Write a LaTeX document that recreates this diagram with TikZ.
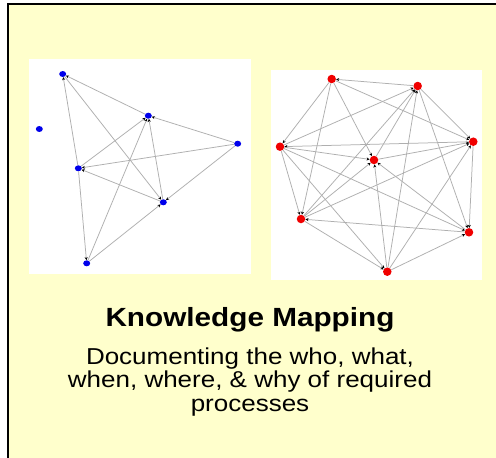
\documentclass[tikz,border=0pt]{standalone}
\usepackage{fontspec}
\usepackage{graphicx}
\setmainfont{Liberation Sans}
\usetikzlibrary{arrows.meta,shapes.geometric}
\definecolor{bgyellow}{RGB}{255,255,204}
\definecolor{edgegray}{RGB}{175,175,175}
\definecolor{nodeblue}{RGB}{0,0,235}
\definecolor{nodered}{RGB}{240,0,0}
\begin{document}
\begin{tikzpicture}[x=1pt,y=-1pt,
  bnode/.style={ellipse,fill=nodeblue,inner sep=0pt,minimum width=7pt,minimum height=6pt},
  rnode/.style={circle,fill=nodered,inner sep=0pt,minimum size=8.5pt},
  link/.style={draw=edgegray,line width=0.75pt,-{Stealth[length=3pt,width=3pt,color=black]}},
  panel/.style={fill=white,draw=none},
  titletext/.style={anchor=base,inner sep=0pt,font=\fontsize{26.3}{30}\selectfont\bfseries},
  bodytext/.style={anchor=base,inner sep=0pt,font=\fontsize{23}{26}\selectfont}]
\useasboundingbox (0,0) rectangle (496,458);
\begin{scope}
  \clip (0,0) rectangle (496,458);
  \fill[white] (0,0) rectangle (496,458);
  \draw[fill=bgyellow,line width=2pt] (7.7,4.3) rectangle (520,480);
\end{scope}
% panels
\fill[panel] (29,58.5) rectangle (250.5,274);
\fill[panel] (271,70) rectangle (482,280);
% left graph
\node[bnode] (A) at (62.7,74) {};
\node[bnode] (B) at (148.3,115.7) {};
\node[bnode] (C) at (39.3,129) {};
\node[bnode] (D) at (237.7,143.7) {};
\node[bnode] (E) at (78.3,168.3) {};
\node[bnode] (F) at (163.3,202.3) {};
\node[bnode] (G) at (86.7,263.3) {};
\draw[link] (B) -- (A);
\draw[link] (E) -- (A);
\draw[link] (A) -- (F);
\draw[link] (D) -- (B);
\draw[link] (F) -- (B);
\draw[link] (G) -- (B);
\draw[link] (E) -- (B);
\draw[link] (D) -- (E);
\draw[link] (F) -- (E);
\draw[link] (D) -- (F);
\draw[link] (G) -- (F);
\draw[link] (E) -- (G);
% right graph
\node[rnode] (P1) at (331.7,79) {};
\node[rnode] (P2) at (417.7,86) {};
\node[rnode] (P3) at (473.3,141.7) {};
\node[rnode] (P4) at (280,146.7) {};
\node[rnode] (P5) at (374,160) {};
\node[rnode] (P6) at (301,219) {};
\node[rnode] (P7) at (469,232.3) {};
\node[rnode] (P8) at (387.3,271.7) {};
\draw[link] (P2) -- (P1);
\draw[link] (P1) -- (P4);
\draw[link] (P1) -- (P6);
\draw[link] (P1) -- (P3);
\draw[link] (P1) -- (P5);
\draw[link] (P4) -- (P2);
\draw[link] (P5) -- (P2);
\draw[link] (P6) -- (P2);
\draw[link] (P8) -- (P2);
\draw[link] (P2) -- (P3);
\draw[link] (P2) -- (P7);
\draw[link] (P5) -- (P3);
\draw[link] (P6) -- (P3);
\draw[link] (P3) -- (P4);
\draw[link] (P8) -- (P3);
\draw[link] (P3) -- (P7);
\draw[link] (P4) -- (P5);
\draw[link] (P4) -- (P6);
\draw[link] (P4) -- (P7);
\draw[link] (P4) -- (P8);
\draw[link] (P6) -- (P5);
\draw[link] (P7) -- (P5);
\draw[link] (P8) -- (P5);
\draw[link] (P7) -- (P6);
\draw[link] (P6) -- (P8);
\draw[link] (P8) -- (P7);
% texts
\node[titletext] (title) at (250,326.7) {\scalebox{1.13}[1]{Knowledge Mapping}};
\node[bodytext] (line1) at (250,364) {\scalebox{1.13}[1]{Documenting the who, what,}};
\node[bodytext] (line2) at (250,387.5) {\scalebox{1.13}[1]{when, where, \& why of required}};
\node[bodytext] (line3) at (250,411) {\scalebox{1.13}[1]{processes}};
\end{tikzpicture}
\end{document}
